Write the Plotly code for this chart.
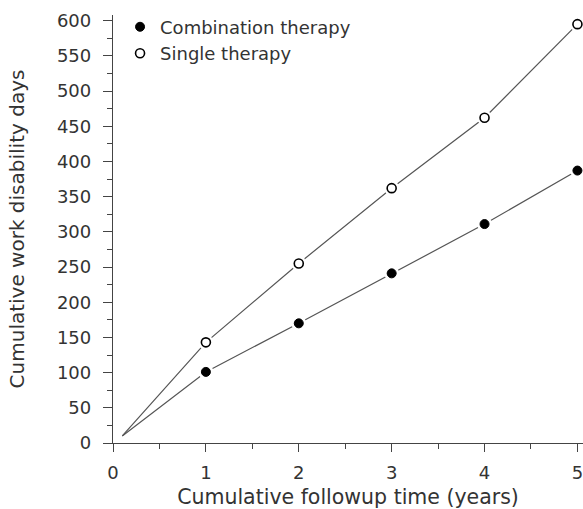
import plotly.graph_objects as go

years = [0.1, 1, 2, 3, 4, 5]
combination = [10, 101, 170, 241, 311, 387]
single = [10, 143, 255, 362, 462, 595]
series_names = ["Combination therapy", "Single therapy"]

FONT = dict(family="DejaVu Sans", size=18, color="#333333")
LINE_COLOR = "#555555"

fig = go.Figure()
# connecting lines
for vals in (combination, single):
    fig.add_trace(go.Scatter(x=years, y=vals, mode="lines",
                             line=dict(color=LINE_COLOR, width=1.2),
                             showlegend=False, hoverinfo="skip", cliponaxis=False))
# white halos around markers (gap in line)
for vals in (combination, single):
    fig.add_trace(go.Scatter(x=years[1:], y=vals[1:], mode="markers",
                             marker=dict(size=15, color="white", line=dict(width=0)),
                             showlegend=False, hoverinfo="skip", cliponaxis=False))
fig.add_trace(go.Scatter(x=years[1:], y=combination[1:], mode="markers", name=series_names[0],
                         marker=dict(size=9, color="black", line=dict(color="black", width=1)),
                         cliponaxis=False))
fig.add_trace(go.Scatter(x=years[1:], y=single[1:], mode="markers", name=series_names[1],
                         marker=dict(size=9, color="white", line=dict(color="black", width=1.6)),
                         cliponaxis=False))

fig.update_layout(
    width=583, height=509,
    margin=dict(l=113, r=0, t=15, b=66),
    paper_bgcolor="white", plot_bgcolor="white",
    font=FONT,
    showlegend=True,
    legend=dict(x=0.015, y=1.015, xanchor="left", yanchor="top",
                bgcolor="rgba(0,0,0,0)", font=FONT, tracegroupgap=0),
)
fig.update_xaxes(
    range=[0, 5.06], tickmode="array", tickvals=[0, 1, 2, 3, 4, 5],
    showgrid=False, zeroline=False, showline=True, linecolor="#444444", linewidth=1.3,
    ticks="outside", ticklen=8, tickwidth=1.3, tickcolor="#444444",
    minor=dict(tickvals=[0.5, 1.5, 2.5, 3.5, 4.5], ticks="outside", ticklen=5,
               tickwidth=1.3, tickcolor="#444444"),
    ticklabelstandoff=5, ticklabeloverflow="allow",
    title=dict(text="Cumulative followup time (years)", font=dict(size=20.5), standoff=7),
)
fig.update_yaxes(
    range=[0, 608], tickmode="array", tickvals=list(range(0, 601, 50)),
    showgrid=False, zeroline=False, showline=True, linecolor="#444444", linewidth=1.3,
    ticks="outside", ticklen=9, tickwidth=1.3, tickcolor="#444444",
    minor=dict(tickvals=list(range(25, 600, 50)), ticks="outside", ticklen=5,
               tickwidth=1.3, tickcolor="#444444"),
    ticklabelstandoff=8,
    title=dict(text="Cumulative work disability days", font=dict(size=20), standoff=26),
)

fig.write_html("out.html")
